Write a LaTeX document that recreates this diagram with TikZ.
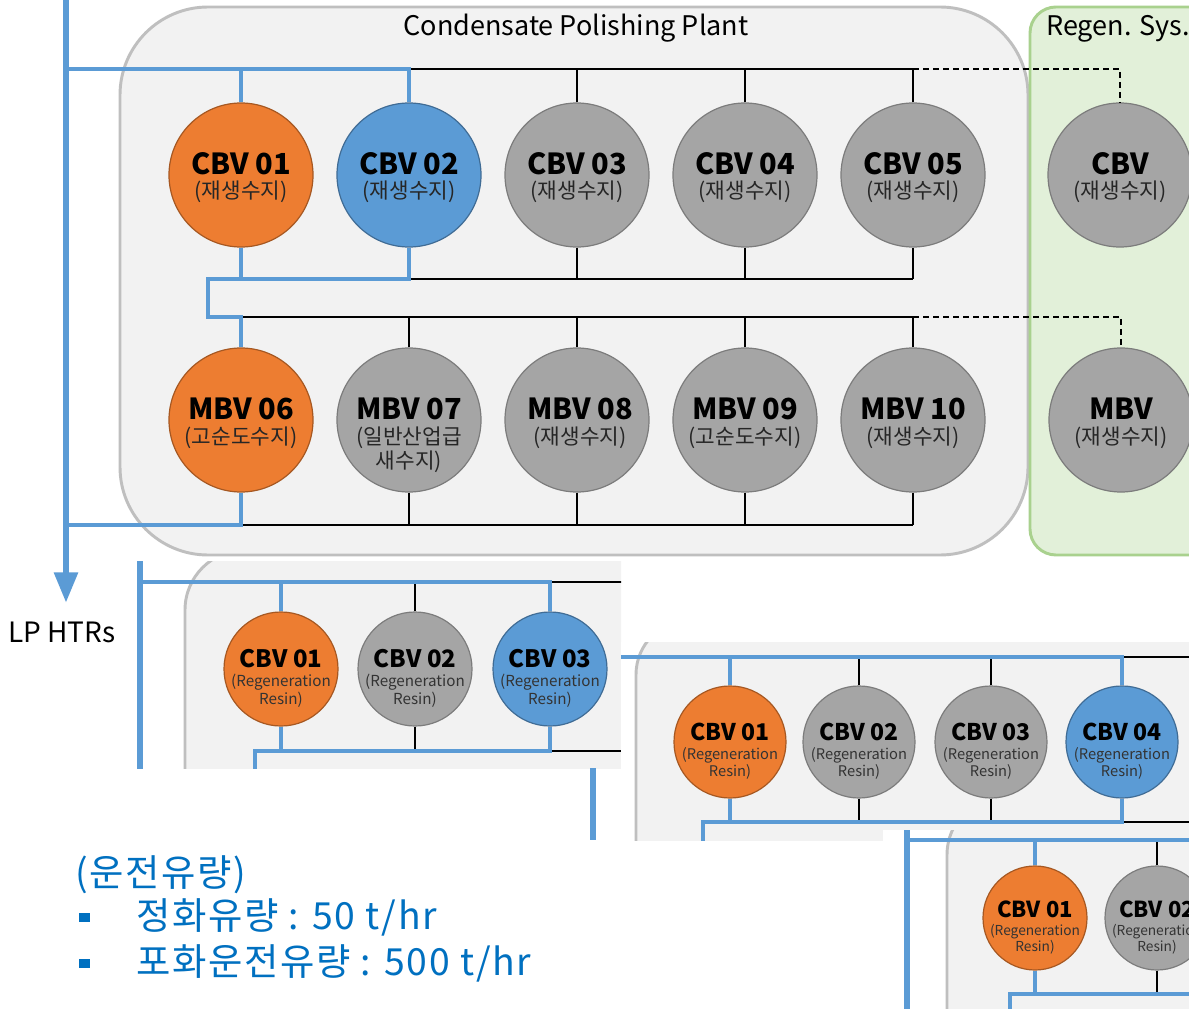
\documentclass[tikz,border=0pt]{standalone}
\usepackage{fontspec}
\setmainfont{Noto Sans CJK KR}
\usetikzlibrary{arrows.meta}
\definecolor{cblue}{HTML}{5B9BD5}
\definecolor{corange}{HTML}{ED7D31}
\definecolor{cgray}{HTML}{A5A5A5}
\definecolor{pfill}{HTML}{F2F2F2}
\definecolor{pborder}{HTML}{BFBFBF}
\definecolor{gfill}{HTML}{E2F0D9}
\definecolor{gborder}{HTML}{A9D18E}
\definecolor{tblue}{HTML}{0070C0}
\newcommand\myfs[2]{\fontsize{#1}{#2}\selectfont}
\begin{document}
\begin{tikzpicture}[x=0.75pt,y=-0.75pt,
  blk/.style={line width=1.7pt, black},
  blu/.style={line width=3pt, cblue},
  mainln/.style={line width=5pt, cblue},
  dsh/.style={dash pattern=on 4.5pt off 3pt},
  ves/.style={circle, draw, line width=0.9pt, inner sep=0pt},
  vor/.style={ves, fill=corange, draw=corange!70!black},
  vbl/.style={ves, fill=cblue, draw=cblue!70!black},
  vgr/.style={ves, fill=cgray, draw=cgray!75!black},
  big/.style={minimum size=108pt},
  midB/.style={minimum size=85.5pt},
  midC/.style={minimum size=84pt},
  midD/.style={minimum size=78pt},
  panel/.style={fill=pfill, draw=pborder, line width=2.2pt},
  gpanel/.style={fill=gfill, draw=gborder, line width=2.2pt},
  tA/.style={font=\bfseries\myfs{21.75}{24}, inner sep=0pt},
  sA/.style={font=\myfs{16}{18}, inner sep=0pt, text=black!85, align=center},
  tB/.style={font=\bfseries\myfs{18}{20}, inner sep=0pt},
  sB/.style={font=\myfs{11.4}{13.5}, inner sep=0pt, text=black!80, align=center},
  tC/.style={font=\bfseries\myfs{17.25}{19}, inner sep=0pt},
  sC/.style={font=\myfs{11}{12.75}, inner sep=0pt, text=black!80, align=center},
  tD/.style={font=\bfseries\myfs{16.5}{18}, inner sep=0pt},
  sD/.style={font=\myfs{10.3}{12}, inner sep=0pt, text=black!80, align=center},
  bul/.style={rectangle, fill=tblue, minimum width=8pt, minimum height=7pt, inner sep=0pt},
  qt/.style={anchor=west, text=tblue, font=\myfs{28}{32}\addfontfeatures{LetterSpace=4.5}, inner sep=0pt}
]
\clip (0,0) rectangle (1189,1009);
\fill[white] (0,0) rectangle (1189,1009);

% ---------- main panels ----------
\draw[panel, rounded corners=66pt] (120,7) rectangle (1028,555);
\draw[gpanel, rounded corners=19.5pt] (1030,7) rectangle (1300,555);
\node[font=\myfs{20.25}{24}, inner sep=0pt] (ttl) at (576,28.5) {Condensate Polishing Plant};
\node[font=\myfs{20.25}{24}, inner sep=0pt, anchor=west] (rgt) at (1046,28.5) {Regen. Sys.};

% vessels top row
\node[vor, big] (a1) at (241,175) {};
\node[vbl, big] (a2) at (409,175) {};
\node[vgr, big] (a3) at (577,175) {};
\node[vgr, big] (a4) at (745,175) {};
\node[vgr, big] (a5) at (913,175) {};
\node[vgr, big] (ar) at (1120,175) {};
% vessels bottom row
\node[vor, big] (b1) at (241,420) {};
\node[vgr, big] (b2) at (409,420) {};
\node[vgr, big] (b3) at (577,420) {};
\node[vgr, big] (b4) at (745,420) {};
\node[vgr, big] (b5) at (913,420) {};
\node[vgr, big] (br) at (1121,420) {};

% top header
\coordinate (hL) at (66,69);
\coordinate (hR) at (913,69);
\draw[blk] (a2.north|-hL) -- (hR);
\foreach \n in {a3,a4,a5} {\draw[blk] (\n.north) -- (\n.north|-hL);}
\draw[blk,dsh] (hR) -| (ar.north);
\draw[blu] (hL) -- (a2.north|-hL) -- (a2.north);
\draw[blu] (a1.north|-hL) -- (a1.north);
% top collector
\coordinate (cL) at (208,279);
\coordinate (cR) at (913,279);
\draw[blk] (a2.south|-cL) -- (cR);
\foreach \n in {a3,a4,a5} {\draw[blk] (\n.south) -- (\n.south|-cL);}
\coordinate (m1) at (208,317);
\coordinate (mR) at (913,317);
\draw[blk] (b1.north|-m1) -- (mR);
\foreach \n in {b2,b3,b4,b5} {\draw[blk] (\n.north) -- (\n.north|-m1);}
\draw[blk,dsh] (mR) -| (br.north);
\draw[blu] (a2.south) -- (a2.south|-cL) -- (cL) -- (m1) -- (b1.north|-m1) -- (b1.north);
\draw[blu] (a1.south) -- (a1.south|-cL);
% bottom collector
\coordinate (oL) at (66,525);
\coordinate (oR) at (913,525);
\draw[blk] (b1.south|-oL) -- (oR);
\foreach \n in {b2,b3,b4,b5} {\draw[blk] (\n.south) -- (\n.south|-oL);}
\draw[blu] (b1.south) -- (b1.south|-oL) -- (oL);
% main line
\coordinate (top) at (66,0);
\coordinate (tip) at (66,603);
\draw[mainln, -{Triangle[length=23pt,width=17pt]}] (top) -- (tip);
\node[font=\myfs{21}{24}, inner sep=0pt, anchor=west] (lp) at (8,632) {LP HTRs};

% labels top
\node[tA] (a1t) at (241,164) {CBV 01};  \node[sA] (a1s) at (241,192) {(재생수지)};
\node[tA] (a2t) at (409,164) {CBV 02};  \node[sA] (a2s) at (409,192) {(재생수지)};
\node[tA] (a3t) at (577,164) {CBV 03};  \node[sA] (a3s) at (577,192) {(재생수지)};
\node[tA] (a4t) at (745,164) {CBV 04};  \node[sA] (a4s) at (745,192) {(재생수지)};
\node[tA] (a5t) at (913,164) {CBV 05};  \node[sA] (a5s) at (913,192) {(재생수지)};
\node[tA] (art) at (1120,164) {CBV};    \node[sA] (ars) at (1120,192) {(재생수지)};
% labels bottom
\node[tA] (b1t) at (241,409) {MBV 06};  \node[sA] (b1s) at (241,438) {(고순도수지)};
\node[tA] (b2t) at (409,409) {MBV 07};  \node[sA, font=\myfs{16}{18}] (b2s) at (409,450) {(일반산업급\\새수지)};
\node[tA] (b3t) at (580,409) {MBV 08};  \node[sA] (b3s) at (580,438) {(재생수지)};
\node[tA] (b4t) at (745,409) {MBV 09};  \node[sA] (b4s) at (745,438) {(고순도수지)};
\node[tA] (b5t) at (913,409) {MBV 10};  \node[sA] (b5s) at (913,438) {(재생수지)};
\node[tA] (brt) at (1121,409) {MBV};    \node[sA] (brs) at (1121,438) {(재생수지)};

% ---------- crop 2 ----------
\begin{scope}
\clip (135,561) rectangle (621,768);
\fill[white] (135,561) rectangle (621,768);
\draw[panel, rounded corners=45pt] (185,550) rectangle (1400,1000);
\node[vor, midB] (p1) at (281,669) {};
\node[vgr, midB] (p2) at (415,669) {};
\node[vbl, midB] (p3) at (550,669) {};
\coordinate (pL) at (140,582); \coordinate (pR) at (640,582);
\draw[blk] (p3.north|-pL) -- (pR);
\draw[blk] (p2.north) -- (p2.north|-pL);
\draw[blu] (p1.north) -- (p1.north|-pL);
\draw[blu] (pL) -- (p3.north|-pL) -- (p3.north);
\coordinate (pB) at (255,751); \coordinate (pBR) at (640,751); \coordinate (pBD) at (255,780);
\draw[blk] (p3.south|-pB) -- (pBR);
\draw[blk] (p2.south) -- (p2.south|-pB);
\draw[blu] (p1.south) -- (p1.south|-pB);
\draw[blu] (p3.south) -- (p3.south|-pB) -- (pB) -- (pBD);
\coordinate (pT) at (140,550); \coordinate (pD) at (140,780);
\draw[mainln] (pT) -- (pD);
\node[tB] (p1t) at (281,659) {CBV 01}; \node[sB] (p1s) at (281,691) {(Regeneration\\Resin)};
\node[tB] (p2t) at (415,659) {CBV 02}; \node[sB] (p2s) at (415,691) {(Regeneration\\Resin)};
\node[tB] (p3t) at (550,659) {CBV 03}; \node[sB] (p3s) at (550,691) {(Regeneration\\Resin)};
\end{scope}

% gap line
\coordinate (g1) at (593,768); \coordinate (g2) at (593,840);
\draw[mainln] (g1) -- (g2);

% ---------- crop 3 ----------
\begin{scope}
\clip (621,642) rectangle (1189,840);
\fill[white] (621,642) rectangle (1189,840);
\draw[panel, rounded corners=41pt] (636,620) rectangle (1500,1000);
\node[vor, midC] (q1) at (730,742) {};
\node[vgr, midC] (q2) at (859,742) {};
\node[vgr, midC] (q3) at (991,742) {};
\node[vbl, midC] (q4) at (1122,742) {};
\coordinate (qL) at (610,657); \coordinate (qR) at (1200,657);
\draw[blk] (q4.north|-qL) -- (qR);
\draw[blk] (q2.north) -- (q2.north|-qL);
\draw[blk] (q3.north) -- (q3.north|-qL);
\draw[blu] (q1.north) -- (q1.north|-qL);
\draw[blu] (qL) -- (q4.north|-qL) -- (q4.north);
\coordinate (qB) at (703,822); \coordinate (qBR) at (1200,822); \coordinate (qBD) at (703,850);
\draw[blk] (q4.south|-qB) -- (qBR);
\draw[blk] (q2.south) -- (q2.south|-qB);
\draw[blk] (q3.south) -- (q3.south|-qB);
\draw[blu] (q1.south) -- (q1.south|-qB);
\draw[blu] (q4.south) -- (q4.south|-qB) -- (qB) -- (qBD);
\node[tC] (q1t) at (730,732) {CBV 01}; \node[sC] (q1s) at (730,763.5) {(Regeneration\\Resin)};
\node[tC] (q2t) at (859,732) {CBV 02}; \node[sC] (q2s) at (859,763.5) {(Regeneration\\Resin)};
\node[tC] (q3t) at (991,732) {CBV 03}; \node[sC] (q3s) at (991,763.5) {(Regeneration\\Resin)};
\node[tC] (q4t) at (1122,732) {CBV 04}; \node[sC] (q4s) at (1122,763.5) {(Regeneration\\Resin)};
\end{scope}

% ---------- crop 4 ----------
\begin{scope}
\clip (883,830) rectangle (1189,1009);
\fill[white] (883,830) rectangle (1189,1009);
\draw[panel, rounded corners=45pt] (947,795) rectangle (1500,1200);
\node[vor, midD] (r1) at (1035,918) {};
\node[vgr, midD] (r2) at (1157,918) {};
\coordinate (rL) at (907,840); \coordinate (rR) at (1200,840);
\draw[blk] (r2.north) -- (r2.north|-rL);
\draw[blu] (rL) -- (rR);
\draw[blu] (r1.north) -- (r1.north|-rL);
\coordinate (rB) at (1010,994); \coordinate (rBR) at (1200,994); \coordinate (rBD) at (1010,1020);
\draw[blk] (r2.south) -- (r2.south|-rB);
\draw[blu] (r1.south) -- (r1.south|-rB);
\draw[blu] (rBD) -- (rB) -- (rBR);
\coordinate (rT) at (907,820); \coordinate (rD) at (907,1020);
\draw[mainln] (rT) -- (rD);
\node[tD] (r1t) at (1035,909) {CBV 01}; \node[sD] (r1s) at (1035,939) {(Regeneration\\Resin)};
\node[tD] (r2t) at (1157,909) {CBV 02}; \node[sD] (r2s) at (1157,939) {(Regeneration\\Resin)};
\end{scope}

% ---------- notes ----------
\node[qt] (q0) at (75,875) {(운전유량)};
\node[bul] (bu1) at (84.5,917.5) {};
\node[bul] (bu2) at (84.5,963.5) {};
\node[qt] (ql1) at (136,917) {정화유량 : 50 t/hr};
\node[qt] (ql2) at (136,963) {포화운전유량 : 500 t/hr};
\end{tikzpicture}
\end{document}
